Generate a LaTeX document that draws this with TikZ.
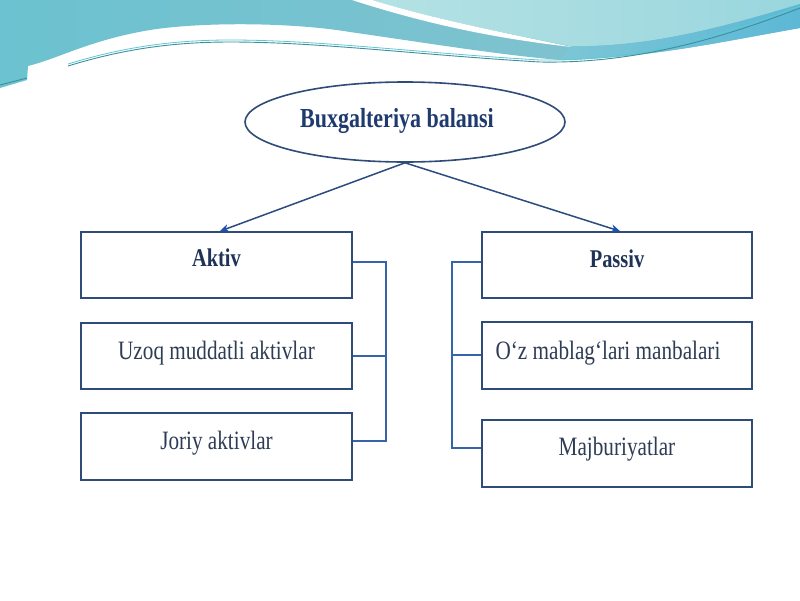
\documentclass[tikz,border=0pt]{standalone}
\usepackage{fontspec}
\newfontfamily\dfont[FakeStretch=0.8]{Liberation Serif}
\usetikzlibrary{arrows.meta,shapes.geometric}
\definecolor{tealL}{HTML}{6CC2D0}
\definecolor{tealR}{HTML}{86C2CF}
\definecolor{lightA}{HTML}{B4E2E4}
\definecolor{lightB}{HTML}{9AD6DE}
\definecolor{bandA}{HTML}{7CC6D6}
\definecolor{bandB}{HTML}{5CB8D6}
\definecolor{wline}{HTML}{3E8E9E}
\definecolor{wline2}{HTML}{5CC8D4}
\definecolor{boxcol}{HTML}{2F4B78}
\definecolor{brkcol}{HTML}{3565A8}
\definecolor{titlecol}{HTML}{1F3A6E}
\definecolor{headcol}{HTML}{1F3358}
\definecolor{itemcol}{HTML}{2E3D55}
\definecolor{arrcol}{HTML}{2B4C7E}
\definecolor{tipcol}{HTML}{1F50B0}
\begin{document}
\begin{tikzpicture}[x=1pt,y=-1pt,
  boxst/.style={draw=boxcol, line width=1.7pt, minimum width=271pt, minimum height=66pt, inner sep=0pt, fill=white},
  headbox/.style={boxst, font=\dfont\bfseries\fontsize{25.5}{28}\selectfont, text=headcol},
  itembox/.style={boxst, font=\dfont\fontsize{26.5}{30}\selectfont, text=itemcol},
  titlest/.style={ellipse, draw=boxcol, line width=1.6pt, minimum width=320pt, minimum height=80pt, inner sep=0pt, fill=white, font=\dfont\bfseries\fontsize{27.5}{30}\selectfont, text=titlecol},
  arr/.style={draw=arrcol, line width=1.5pt, -{Stealth[length=9pt,width=8pt,color=tipcol,fill=tipcol]}},
  brk/.style={draw=brkcol, line width=1.8pt}]
\useasboundingbox (0,0) rectangle (800,600);
\fill[white] (0,0) rectangle (800,600);
% top decoration
\shade[left color=tealL, right color=tealR] (0,0) -- (0,88) -- (27,80) -- (28,66) .. controls (60,58) and (90,40) .. (150,30) .. controls (200,22) and (290,22) .. (350,32) .. controls (420,42) and (500,55) .. (560,60) .. controls (650,58) and (720,42) .. (800,28) -- (800,0) -- cycle;
\shade[left color=lightA, right color=lightB] (372,0) .. controls (430,18) and (500,32) .. (570,46) .. controls (650,48) and (730,25) .. (800,4) -- (800,0) -- cycle;
\shade[left color=bandA, right color=bandB] (570,46) .. controls (650,48) and (730,25) .. (800,4) -- (800,28) .. controls (720,42) and (650,58) .. (560,60) -- cycle;
\fill[white] (352,0) -- (372,0) .. controls (430,18) and (500,32) .. (572,47) .. controls (490,38) and (420,22) .. (352,0) -- cycle;
\draw[wline2, line width=0.8pt] (68,64) .. controls (120,48) and (170,40) .. (230,40) .. controls (320,40) and (420,53) .. (540,60) .. controls (640,62) and (730,33) .. (800,6);
\draw[wline, line width=0.9pt] (68,66) .. controls (120,50) and (170,42) .. (230,42) .. controls (320,42) and (420,55) .. (540,62) .. controls (640,64) and (730,35) .. (800,8);
\draw[wline, line width=0.9pt] (0,85) -- (27,78);
% nodes
\node[titlest, text height=15pt, text depth=5pt] (bal) at (405,122) {Buxgalteriya balansi\kern16pt};
\node[headbox, text height=10pt, text depth=8pt] (aktiv) at (216.5,265) {Aktiv};
\node[itembox, text height=12pt, text depth=6pt] (uzoq) at (216.5,356) {Uzoq muddatli aktivlar};
\node[itembox, minimum height=67pt, text height=12pt, text depth=7pt] (joriy) at (216.5,446.5) {Joriy aktivlar};
\node[headbox, minimum width=270pt, text height=11pt, text depth=7pt] (passiv) at (617,265) {Passiv};
\node[itembox, minimum width=270pt, minimum height=67pt, text height=12.5pt, text depth=5.5pt] (oz) at (617,355.5) {O‘z mablag‘lari manbalari\kern18pt};
\node[itembox, minimum width=270pt, minimum height=67pt, text height=12pt, text depth=8pt] (majb) at (617,453.5) {Majburiyatlar};
% connectors
\draw[arr] (bal.south) -- ([xshift=3.5pt]aktiv.north);
\draw[arr] (bal.south) -- ([xshift=3pt]passiv.north);
\draw[brk] ([yshift=3pt]aktiv.east) -- ++(33,0) |- ([yshift=5.5pt]joriy.east);
\draw[brk] (uzoq.east) -- ++(33,0);
\draw[brk] ([yshift=3pt]passiv.west) -- ++(-29,0) |- ([yshift=5.5pt]majb.west);
\draw[brk] ([yshift=0.5pt]oz.west) -- ++(-29,0);
\end{tikzpicture}
\end{document}
